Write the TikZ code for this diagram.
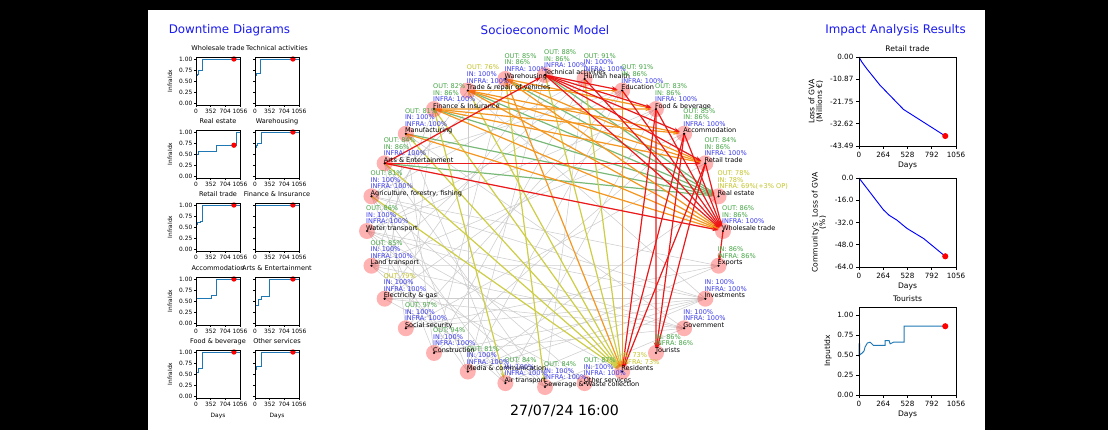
\documentclass[tikz,border=0pt]{standalone}
\usepackage{fontspec}
\setmainfont{DejaVu Sans}
\usetikzlibrary{arrows.meta}

\definecolor{hdblue}{RGB}{25,25,240}
\definecolor{stgreen}{RGB}{70,165,70}
\definecolor{stblue}{RGB}{60,60,235}
\definecolor{stolive}{RGB}{195,195,40}
\definecolor{mplblue}{RGB}{31,119,180}
\definecolor{edred}{RGB}{235,25,25}
\definecolor{edorange}{RGB}{245,150,30}
\definecolor{edolive}{RGB}{205,205,70}
\definecolor{edgreen}{RGB}{120,185,120}
\definecolor{edgrey}{RGB}{205,205,205}

\newcommand{\fsz}[1]{\fontsize{#1}{#1}\selectfont}
\newcommand{\lgreen}[1]{\textcolor{stgreen}{#1}}
\newcommand{\lblue}[1]{\textcolor{stblue}{#1}}
\newcommand{\lolive}[1]{\textcolor{stolive}{#1}}

% small downtime diagram: #1 left, #2 y of value 0, #3 title, #4 step data,
% #5 value of the current-day dot, #6 y tick labels, #7 x axis label
\newcommand{\dtplot}[7]{%
  \begin{scope}[shift={(#1,#2)},x=0.03125pt,y=33pt]
    \draw[dtline] plot coordinates {#4};
    \fill[red] (910,#5) circle[radius=2pt];
    \draw[axbox] (0,-0.045) rectangle (1056,1.045);
    \foreach \v in {0,0.25,0.5,0.75,1}{\draw[axbox] (0,\v) -- ++(-1.8pt,0);}
    \foreach \d in {0,352,704,1056}{%
      \draw[axbox] (\d,-0.045) -- ++(0,-1.8pt);
      \node[tinytick,yshift=-4.8pt] at (\d,-0.045) {\d};}
    \node[dttitle,yshift=6.6pt] at (528,1.045) {#3};
    \ifnum#6=1\relax
      \foreach \v/\t in {0/0.00,0.25/0.25,0.5/0.50,0.75/0.75,1/1.00}{%
        \node[tinytick,anchor=east,xshift=-2.6pt] at (0,\v) {\t};}
      \node[tinytick,rotate=90] at (-624,0.5) {InfraIdx};
    \fi
    \ifnum#7=1\relax
      \node[tinytick,yshift=-13.5pt] at (528,-0.045) {Days};
    \fi
  \end{scope}}

\begin{document}
\begin{tikzpicture}[x=0.75pt,y=-0.75pt,
  hdr/.style={font=\fsz{8.9pt},text=hdblue,inner sep=0pt},
  dttitle/.style={font=\fsz{4.9pt},inner sep=0pt},
  tinytick/.style={font=\fsz{4.4pt},inner sep=0pt},
  rtick/.style={font=\fsz{5.4pt},inner sep=0pt},
  rlabel/.style={font=\fsz{5.7pt},inner sep=0pt,align=center},
  axbox/.style={line width=0.4pt,black},
  dtline/.style={mplblue,line width=0.6pt},
  gvaline/.style={blue,line width=0.7pt},
  greyedge/.style={edgrey,line width=0.4pt},
  cedge/.style={line width=0.9pt,-{Stealth[length=4.5pt,width=3.2pt]},shorten >=3.5pt},
  rededge/.style={cedge,edred},
  orangeedge/.style={cedge,edorange},
  oliveedge/.style={cedge,edolive},
  greenedge/.style={cedge,edgreen},
  nodedisc/.style={circle,fill=red,fill opacity=0.3,minimum size=12pt,inner sep=0pt},
  nodedot/.style={circle,fill=black,minimum size=1.8pt,inner sep=0pt},
  stats/.style={anchor=south west,align=left,inner sep=0pt,font=\fsz{4.9pt},xshift=-0.8pt,yshift=-1pt}]

\useasboundingbox (0,0) rectangle (1108,430);
\fill[black] (0,0) rectangle (1108,430);
\fill[white] (148,10) rectangle (985,430);

% ---------------- headings ----------------
\node[hdr] (hdl) at (229.5,30) {Downtime Diagrams};
\node[hdr] (hdm) at (545,30) {Socioeconomic Model};
\node[hdr] (hdr) at (895.5,30) {Impact Analysis Results};

% ---------------- downtime diagrams ----------------
\dtplot{196}{103}{Wholesale trade}{(0,0.45)(0,0.63)(25,0.63)(25,0.66)(60,0.66)(60,0.73)(145,0.73)(145,1)(1056,1)}{1}{1}{0}
\dtplot{255}{103}{Technical activities}{(0,0.45)(0,0.62)(45,0.62)(45,0.68)(140,0.68)(140,1)(1056,1)}{1}{0}{0}
\dtplot{196}{176}{Real estate}{(0,0.46)(0,0.5)(55,0.5)(55,0.55)(480,0.55)(480,0.70)(975,0.70)(975,1)(1056,1)}{0.7}{1}{0}
\dtplot{255}{176}{Warehousing}{(0,0.6)(0,0.65)(30,0.65)(30,0.7)(65,0.7)(65,0.75)(150,0.75)(150,1)(1056,1)}{1}{0}{0}
\dtplot{196}{249}{Retail trade}{(0,0.4)(0,0.55)(40,0.55)(40,0.6)(95,0.6)(95,0.62)(145,0.62)(145,1)(1056,1)}{1}{1}{0}
\dtplot{255}{249}{Finance \& Insurance}{(0,0.65)(0,1)(1056,1)}{1}{0}{0}
\dtplot{196}{323}{Accommodation}{(0,0.42)(0,0.55)(20,0.55)(20,0.56)(370,0.56)(370,0.63)(490,0.63)(490,1)(1056,1)}{1}{1}{0}
\dtplot{255}{323}{Arts \& Entertainment}{(0,0.4)(85,0.4)(85,0.53)(155,0.53)(155,0.6)(345,0.6)(345,1)(1056,1)}{1}{0}{0}
\dtplot{196}{396}{Food \& beverage}{(0,0.47)(0,0.54)(65,0.54)(65,0.62)(145,0.62)(145,1)(1056,1)}{1}{1}{1}
\dtplot{255}{396}{Other services}{(0,0.45)(0,0.6)(30,0.6)(30,0.67)(155,0.67)(155,1)(1056,1)}{1}{0}{1}

% ---------------- impact analysis ----------------
% loss of GVA, retail trade
\begin{scope}[shift={(859,57)},x=0.068892pt,y=1.53484pt]
  \draw[gvaline] plot coordinates {(0,0)(30,-2.4)(84,-5.7)(229,-13.8)(484,-25.6)(939,-38.6)};
  \fill[red] (939,-38.6) circle[radius=2.3pt];
  \draw[axbox] (0,0) rectangle (1056,-43.49);
  \foreach \v/\t in {0/0.00,-10.87/-10.87,-21.75/-21.75,-32.62/-32.62,-43.49/-43.49}{%
    \draw[axbox] (0,\v) -- ++(-2.4pt,0);
    \node[rtick,anchor=east,xshift=-4pt] at (0,\v) {\t};}
  \foreach \d in {0,264,528,792,1056}{%
    \draw[axbox] (\d,-43.49) -- ++(0,-2.4pt);
    \node[rtick,yshift=-6.8pt] at (\d,-43.49) {\d};}
  \node[rlabel,yshift=6.2pt] at (528,0) {Retail trade};
  \node[rlabel,yshift=-15pt] at (528,-43.49) {Days};
  \node[rlabel,rotate=90] at (-470,-21.75) {Loss of GVA\\(Millions €)};
\end{scope}
% community loss of GVA
\begin{scope}[shift={(859,178)},x=0.068892pt,y=1.04297pt]
  \draw[gvaline] plot coordinates {(0,0)(84,-7.2)(266,-22.9)(330,-26.9)(411,-30.2)(521,-36.2)(703,-43.5)(939,-56.3)};
  \fill[red] (939,-56.3) circle[radius=2.3pt];
  \draw[axbox] (0,0) rectangle (1056,-64);
  \foreach \v/\t in {0/0.0,-16/-16.0,-32/-32.0,-48/-48.0,-64/-64.0}{%
    \draw[axbox] (0,\v) -- ++(-2.4pt,0);
    \node[rtick,anchor=east,xshift=-4pt] at (0,\v) {\t};}
  \foreach \d in {0,264,528,792,1056}{%
    \draw[axbox] (\d,-64) -- ++(0,-2.4pt);
    \node[rtick,yshift=-6.8pt] at (\d,-64) {\d};}
  \node[rlabel,yshift=-15pt] at (528,-64) {Days};
  \node[rlabel,rotate=90] at (-435,-32) {Community's\ \ Loss of GVA\\(\%)};
\end{scope}
% tourists input index
\begin{scope}[shift={(859,395)},x=0.068892pt,y=60pt]
  \draw[dtline,line width=0.7pt] plot coordinates {(0,0.48)(0,0.64)(6,0.64)(6,0.5)(30,0.52)(55,0.55)(66,0.6)(91,0.65)(120,0.66)(140,0.64)(157,0.62)(284,0.62)(284,0.68)(328,0.68)(339,0.64)(375,0.66)(484,0.66)(491,0.66)(491,0.86)(939,0.86)};
  \fill[red] (939,0.86) circle[radius=2.3pt];
  \draw[axbox] (0,0) rectangle (1056,1.1);
  \foreach \v/\t in {0/0.00,0.25/0.25,0.5/0.50,0.75/0.75,1/1.00}{%
    \draw[axbox] (0,\v) -- ++(-2.4pt,0);
    \node[rtick,anchor=east,xshift=-4pt] at (0,\v) {\t};}
  \foreach \d in {0,264,528,792,1056}{%
    \draw[axbox] (\d,0) -- ++(0,-2.4pt);
    \node[rtick,yshift=-6.8pt] at (\d,0) {\d};}
  \node[rlabel,yshift=6.2pt] at (528,1.1) {Tourists};
  \node[rlabel,yshift=-15pt] at (528,0) {Days};
  \node[rlabel,rotate=90] at (-337,0.55) {InputIdx};
\end{scope}

% ---------------- socioeconomic network ----------------
\foreach \k in {0,...,27}{%
  \pgfmathsetmacro\ang{90-\k*360/28}
  \coordinate (n\k) at ({545+178*cos(\ang)},{231-156*sin(\ang)});}

% weak links
\foreach \a/\b in {22/8,22/9,21/9,21/10,20/8,20/10,19/9,19/10,
  18/8,18/9,17/9,17/10,16/8,16/9,15/9,14/10,
  22/17,21/16,20/15,19/14,23/18,24/19,25/20,26/21,27/22,
  22/15,21/14,20/13,23/16,24/17,25/18,
  22/13,21/12,23/14,24/15,0/19,1/20,2/21,
  24/10,26/9,1/17,2/16,3/15,1/14,2/18,3/19,
  27/17,26/16,0/16,1/22,2/23,3/21,4/20,4/17,5/18,6/16}
  {\draw[greyedge] (n\a) -- (n\b);}

% strong links
\foreach \a/\b in {25/6,23/6,27/6,0/6,24/6,26/6}{\draw[greenedge] (n\a) -- (n\b);}
\foreach \a/\b in {24/12,23/12,25/12,26/12,0/12,22/12,25/15,27/14,1/12}{\draw[oliveedge] (n\a) -- (n\b);}
\foreach \a/\b in {25/5,25/7,25/4,25/3,26/5,26/7,26/4,27/5,27/7,27/3,24/7,2/12,26/2,27/12}{\draw[orangeedge] (n\a) -- (n\b);}
\foreach \a/\b in {23/5,23/7,23/0,0/2,0/3,0/4,0/5,0/7,1/7,2/7,3/7,4/7,5/7,3/11,4/11,5/11,4/12,5/12,3/12,7/8}{\draw[rededge] (n\a) -- (n\b);}

\foreach \k in {0,...,27}{%
  \node[nodedisc] (d\k) at (n\k) {};
  \node[nodedot] (p\k) at (n\k) {};}

% node captions
\node[stats] (s0) at (n0) {\lgreen{OUT: 88\%}\\\lgreen{IN: 86\%}\\\lblue{INFRA: 100\%}\\Technical activities\strut};
\node[stats] (s1) at (n1) {\lgreen{OUT: 91\%}\\\lblue{IN: 100\%}\\\lblue{INFRA: 100\%}\\Human health\strut};
\node[stats] (s2) at (n2) {\lgreen{OUT: 91\%}\\\lgreen{IN: 86\%}\\\lblue{INFRA: 100\%}\\Education\strut};
\node[stats] (s3) at (n3) {\lgreen{OUT: 83\%}\\\lgreen{IN: 86\%}\\\lblue{INFRA: 100\%}\\Food \& beverage\strut};
\node[stats] (s4) at (n4) {\lgreen{OUT: 85\%}\\\lgreen{IN: 86\%}\\\lblue{INFRA: 100\%}\\Accommodation\strut};
\node[stats] (s5) at (n5) {\lgreen{OUT: 84\%}\\\lgreen{IN: 86\%}\\\lblue{INFRA: 100\%}\\Retail trade\strut};
\node[stats] (s6) at (n6) {\lolive{OUT: 78\%}\\\lolive{IN: 78\%}\\\lolive{INFRA: 69\%(+3\% OP)}\\Real estate\strut};
\node[stats] (s7) at (n7) {\lgreen{OUT: 86\%}\\\lgreen{IN: 86\%}\\\lblue{INFRA: 100\%}\\Wholesale trade\strut};
\node[stats] (s8) at (n8) {\lgreen{IN: 86\%}\\\lgreen{INFRA: 86\%}\\Exports\strut};
\node[stats] (s9) at (n9) {\lblue{IN: 100\%}\\\lblue{INFRA: 100\%}\\Investments\strut};
\node[stats] (s10) at (n10) {\lblue{IN: 100\%}\\\lblue{INFRA: 100\%}\\Government\strut};
\node[stats] (s11) at (n11) {\lgreen{IN: 86\%}\\\lgreen{INFRA: 86\%}\\Tourists\strut};
\node[stats] (s12) at (n12) {\lolive{IN: 73\%}\\\lolive{INFRA: 73\%}\\Residents\strut};
\node[stats] (s13) at (n13) {\lgreen{OUT: 87\%}\\\lblue{IN: 100\%}\\\lblue{INFRA: 100\%}\\Other services\strut};
\node[stats] (s14) at (n14) {\lgreen{OUT: 84\%}\\\lblue{IN: 100\%}\\\lblue{INFRA: 100\%}\\Sewerage \& Waste collection\strut};
\node[stats] (s15) at (n15) {\lgreen{OUT: 84\%}\\\lblue{IN: 100\%}\\\lblue{INFRA: 100\%}\\Air transport\strut};
\node[stats] (s16) at (n16) {\lgreen{OUT: 81\%}\\\lblue{IN: 100\%}\\\lblue{INFRA: 100\%}\\Media \& communication\strut};
\node[stats] (s17) at (n17) {\lgreen{OUT: 94\%}\\\lblue{IN: 100\%}\\\lblue{INFRA: 100\%}\\Construction\strut};
\node[stats] (s18) at (n18) {\lgreen{OUT: 97\%}\\\lblue{IN: 100\%}\\\lblue{INFRA: 100\%}\\Social security\strut};
\node[stats] (s19) at (n19) {\lolive{OUT: 79\%}\\\lblue{IN: 100\%}\\\lblue{INFRA: 100\%}\\Electricity \& gas\strut};
\node[stats] (s20) at (n20) {\lgreen{OUT: 85\%}\\\lblue{IN: 100\%}\\\lblue{INFRA: 100\%}\\Land transport\strut};
\node[stats] (s21) at (n21) {\lgreen{OUT: 86\%}\\\lblue{IN: 100\%}\\\lblue{INFRA: 100\%}\\Water transport\strut};
\node[stats] (s22) at (n22) {\lgreen{OUT: 81\%}\\\lblue{IN: 100\%}\\\lblue{INFRA: 100\%}\\Agriculture, forestry, fishing\strut};
\node[stats] (s23) at (n23) {\lgreen{OUT: 84\%}\\\lgreen{IN: 86\%}\\\lblue{INFRA: 100\%}\\Arts \& Entertainment\strut};
\node[stats] (s24) at (n24) {\lgreen{OUT: 81\%}\\\lblue{IN: 100\%}\\\lblue{INFRA: 100\%}\\Manufacturing\strut};
\node[stats] (s25) at (n25) {\lgreen{OUT: 82\%}\\\lgreen{IN: 86\%}\\\lblue{INFRA: 100\%}\\Finance \& Insurance\strut};
\node[stats] (s26) at (n26) {\lolive{OUT: 76\%}\\\lblue{IN: 100\%}\\\lblue{INFRA: 100\%}\\Trade \& repair of vehicles\strut};
\node[stats] (s27) at (n27) {\lgreen{OUT: 85\%}\\\lgreen{IN: 86\%}\\\lblue{INFRA: 100\%}\\Warehousing\strut};

\node[font=\fsz{10.6pt},inner sep=0pt] (clock) at (564.5,411) {27/07/24 16:00};
\end{tikzpicture}
\end{document}
